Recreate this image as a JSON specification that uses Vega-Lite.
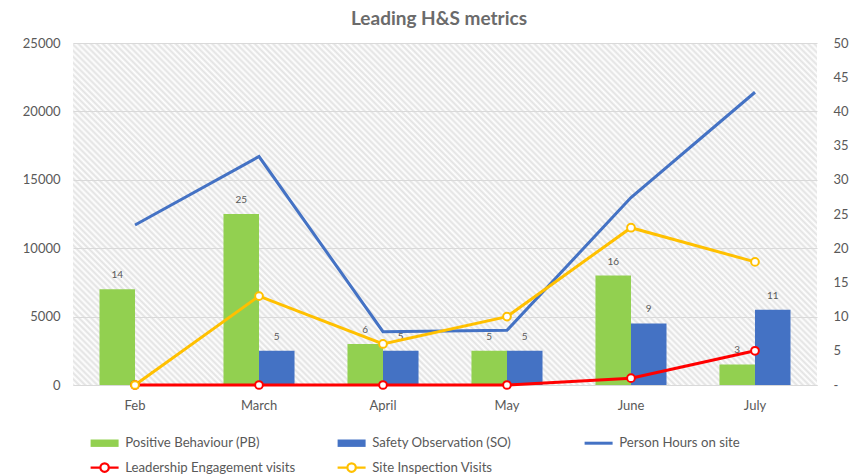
{
  "$schema": "https://vega.github.io/schema/vega-lite/v6.json",
  "width": 744,
  "height": 342,
  "autosize": {"type": "none"},
  "padding": {"left": 73, "top": 43, "right": 44, "bottom": 91},
  "background": "#ffffff",
  "title": {
    "text": "Leading H&S metrics",
    "font": "Lato",
    "fontSize": 19,
    "fontWeight": "bold",
    "color": "#6b6b6b",
    "anchor": "middle",
    "dx": -6,
    "offset": 8
  },
  "datasets": {
    "counts": [
      {"month": "Feb", "series": "Positive Behaviour (PB)", "value": 14},
      {"month": "March", "series": "Positive Behaviour (PB)", "value": 25},
      {"month": "April", "series": "Positive Behaviour (PB)", "value": 6},
      {"month": "May", "series": "Positive Behaviour (PB)", "value": 5},
      {"month": "June", "series": "Positive Behaviour (PB)", "value": 16},
      {"month": "July", "series": "Positive Behaviour (PB)", "value": 3},
      {"month": "Feb", "series": "Safety Observation (SO)", "value": 0},
      {"month": "March", "series": "Safety Observation (SO)", "value": 5},
      {"month": "April", "series": "Safety Observation (SO)", "value": 5},
      {"month": "May", "series": "Safety Observation (SO)", "value": 5},
      {"month": "June", "series": "Safety Observation (SO)", "value": 9},
      {"month": "July", "series": "Safety Observation (SO)", "value": 11},
      {"month": "Feb", "series": "Leadership Engagement visits", "value": 0},
      {"month": "March", "series": "Leadership Engagement visits", "value": 0},
      {"month": "April", "series": "Leadership Engagement visits", "value": 0},
      {"month": "May", "series": "Leadership Engagement visits", "value": 0},
      {"month": "June", "series": "Leadership Engagement visits", "value": 1},
      {"month": "July", "series": "Leadership Engagement visits", "value": 5},
      {"month": "Feb", "series": "Site Inspection Visits", "value": 0},
      {"month": "March", "series": "Site Inspection Visits", "value": 13},
      {"month": "April", "series": "Site Inspection Visits", "value": 6},
      {"month": "May", "series": "Site Inspection Visits", "value": 10},
      {"month": "June", "series": "Site Inspection Visits", "value": 23},
      {"month": "July", "series": "Site Inspection Visits", "value": 18}
    ],
    "hours": [
      {"month": "Feb", "series": "Person Hours on site", "value": 11700},
      {"month": "March", "series": "Person Hours on site", "value": 16700},
      {"month": "April", "series": "Person Hours on site", "value": 3900},
      {"month": "May", "series": "Person Hours on site", "value": 4000},
      {"month": "June", "series": "Person Hours on site", "value": 13700},
      {"month": "July", "series": "Person Hours on site", "value": 21400}
    ]
  },
  "layer": [
    {
      "data": {"name": "counts"},
      "transform": [{"filter": "datum.series == 'Positive Behaviour (PB)' || datum.series == 'Safety Observation (SO)'"}],
      "encoding": {
        "x": {
          "field": "month", "type": "nominal",
          "sort": ["Feb", "March", "April", "May", "June", "July"],
          "scale": {"type": "band", "paddingInner": 0.427, "paddingOuter": 0.2137},
          "axis": {"title": null, "labelAngle": 0, "ticks": false, "domainColor": "#d9d9d9", "labelPadding": 14, "labelFont": "Lato", "labelFontSize": 13, "labelColor": "#595959"}
        },
        "xOffset": {
          "field": "series", "type": "nominal",
          "sort": ["Positive Behaviour (PB)", "Safety Observation (SO)"],
          "scale": {"paddingInner": 0, "paddingOuter": 0}
        },
        "y": {
          "field": "value", "type": "quantitative",
          "scale": {"domain": [0, 50], "nice": false, "zero": true},
          "axis": {"orient": "right", "title": null, "values": [0, 5, 10, 15, 20, 25, 30, 35, 40, 45, 50], "grid": false, "domain": false, "ticks": false, "labelPadding": 16, "labelExpr": "datum.value == 0 ? '-' : datum.label", "labelFont": "Lato", "labelFontSize": 13, "labelColor": "#595959"}
        }
      },
      "layer": [
        {
          "mark": {"type": "bar"},
          "encoding": {
            "color": {
              "field": "series", "type": "nominal",
              "scale": {
                "domain": ["Positive Behaviour (PB)", "Safety Observation (SO)", "Person Hours on site", "Leadership Engagement visits", "Site Inspection Visits"],
                "range": ["#92d050", "#4472c4", "#4472c4", "#ff0000", "#ffc000"]
              },
              "legend": {
                "orient": "none",
                "direction": "horizontal",
                "legendX": 25,
                "legendY": 392,
                "title": null,
                "columns": 3,
                "gridAlign": "all",
                "columnPadding": 35,
                "rowPadding": 7,
                "padding": 0,
                "symbolSize": 400,
                "labelOffset": 14,
                "labelLimit": 400,
                "labelFont": "Lato",
                "labelFontSize": 13.2,
                "labelColor": "#595959",
                "encode": {
                  "symbols": {
                    "update": {
                      "shape": {"signal": "(datum.value == 'Positive Behaviour (PB)' || datum.value == 'Safety Observation (SO)') ? 'M-1.4,-0.37H1.4V0.37H-1.4Z' : datum.value == 'Person Hours on site' ? 'M-1.4,0H1.4' : 'M-1.4,0H-0.42M0.42,0H1.4M-0.42,0A0.42,0.42,0,1,1,0.42,0A0.42,0.42,0,1,1,-0.42,0Z'"},
                      "fill": {"signal": "datum.value == 'Positive Behaviour (PB)' ? '#92d050' : datum.value == 'Safety Observation (SO)' ? '#4472c4' : datum.value == 'Person Hours on site' ? 'transparent' : '#ffffff'"},
                      "stroke": {"signal": "datum.value == 'Positive Behaviour (PB)' ? '#92d050' : datum.value == 'Safety Observation (SO)' ? '#4472c4' : datum.value == 'Person Hours on site' ? '#4472c4' : datum.value == 'Leadership Engagement visits' ? '#ff0000' : '#ffc000'"},
                      "strokeWidth": {"signal": "(datum.value == 'Positive Behaviour (PB)' || datum.value == 'Safety Observation (SO)') ? 0 : datum.value == 'Person Hours on site' ? 3 : 2.2"},
                      "opacity": {"value": 1},
                      "fillOpacity": {"signal": "(datum.value == 'Positive Behaviour (PB)' || datum.value == 'Safety Observation (SO)') ? 1 : 0"},
                      "strokeOpacity": {"value": 1}
                    }
                  }
                }
              }
            }
          }
        },
        {
          "mark": {"type": "text", "baseline": "middle", "dy": -14, "font": "Lato", "fontSize": 10, "color": "#595959"},
          "encoding": {
            "text": {"condition": {"test": "datum.value === 0", "value": "-"}, "field": "value", "type": "quantitative"}
          }
        }
      ]
    },
    {
      "data": {"name": "hours"},
      "mark": {"type": "line", "strokeWidth": 3},
      "encoding": {
        "x": {"field": "month", "type": "nominal", "sort": ["Feb", "March", "April", "May", "June", "July"]},
        "y": {
          "field": "value", "type": "quantitative",
          "scale": {"domain": [0, 25000], "nice": false},
          "axis": {"orient": "left", "title": null, "values": [0, 5000, 10000, 15000, 20000, 25000], "format": "d", "grid": true, "gridColor": "#d9d9d9", "gridWidth": 1, "domain": false, "ticks": false, "labelPadding": 13, "labelFont": "Lato", "labelFontSize": 13, "labelColor": "#595959"}
        },
        "color": {"field": "series", "type": "nominal"}
      }
    },
    {
      "data": {"name": "counts"},
      "transform": [{"filter": "datum.series == 'Leadership Engagement visits' || datum.series == 'Site Inspection Visits'"}],
      "mark": {"type": "line", "strokeWidth": 3, "point": {"filled": false, "fill": "#ffffff", "size": 60, "strokeWidth": 2}},
      "encoding": {
        "x": {"field": "month", "type": "nominal", "sort": ["Feb", "March", "April", "May", "June", "July"]},
        "y": {
          "field": "value", "type": "quantitative",
          "scale": {"domain": [0, 50], "nice": false},
          "axis": null
        },
        "color": {"field": "series", "type": "nominal"}
      }
    }
  ],
  "resolve": {"scale": {"y": "independent"}},
  "config": {
    "view": {
      "stroke": null,
      "fill": {
        "gradient": "linear",
        "x1": 0, "y1": 1, "x2": 1.3496, "y2": 0.3796,
        "stops": [
          {"offset":0,"color":"#e2e2e2"},{"offset":0.0025,"color":"#fff"},{"offset":0.005,"color":"#e2e2e2"},{"offset":0.0075,"color":"#fff"},
          {"offset":0.01,"color":"#e2e2e2"},{"offset":0.0125,"color":"#fff"},{"offset":0.015,"color":"#e2e2e2"},{"offset":0.0175,"color":"#fff"},
          {"offset":0.02,"color":"#e2e2e2"},{"offset":0.0225,"color":"#fff"},{"offset":0.025,"color":"#e2e2e2"},{"offset":0.0275,"color":"#fff"},
          {"offset":0.03,"color":"#e2e2e2"},{"offset":0.0325,"color":"#fff"},{"offset":0.035,"color":"#e2e2e2"},{"offset":0.0375,"color":"#fff"},
          {"offset":0.04,"color":"#e2e2e2"},{"offset":0.0425,"color":"#fff"},{"offset":0.045,"color":"#e2e2e2"},{"offset":0.0475,"color":"#fff"},
          {"offset":0.05,"color":"#e2e2e2"},{"offset":0.0525,"color":"#fff"},{"offset":0.055,"color":"#e2e2e2"},{"offset":0.0575,"color":"#fff"},
          {"offset":0.06,"color":"#e2e2e2"},{"offset":0.0625,"color":"#fff"},{"offset":0.065,"color":"#e2e2e2"},{"offset":0.0675,"color":"#fff"},
          {"offset":0.07,"color":"#e2e2e2"},{"offset":0.0725,"color":"#fff"},{"offset":0.075,"color":"#e2e2e2"},{"offset":0.0775,"color":"#fff"},
          {"offset":0.08,"color":"#e2e2e2"},{"offset":0.0825,"color":"#fff"},{"offset":0.085,"color":"#e2e2e2"},{"offset":0.0875,"color":"#fff"},
          {"offset":0.09,"color":"#e2e2e2"},{"offset":0.0925,"color":"#fff"},{"offset":0.095,"color":"#e2e2e2"},{"offset":0.0975,"color":"#fff"},
          {"offset":0.10,"color":"#e2e2e2"},{"offset":0.1025,"color":"#fff"},{"offset":0.105,"color":"#e2e2e2"},{"offset":0.1075,"color":"#fff"},
          {"offset":0.11,"color":"#e2e2e2"},{"offset":0.1125,"color":"#fff"},{"offset":0.115,"color":"#e2e2e2"},{"offset":0.1175,"color":"#fff"},
          {"offset":0.12,"color":"#e2e2e2"},{"offset":0.1225,"color":"#fff"},{"offset":0.125,"color":"#e2e2e2"},{"offset":0.1275,"color":"#fff"},
          {"offset":0.13,"color":"#e2e2e2"},{"offset":0.1325,"color":"#fff"},{"offset":0.135,"color":"#e2e2e2"},{"offset":0.1375,"color":"#fff"},
          {"offset":0.14,"color":"#e2e2e2"},{"offset":0.1425,"color":"#fff"},{"offset":0.145,"color":"#e2e2e2"},{"offset":0.1475,"color":"#fff"},
          {"offset":0.15,"color":"#e2e2e2"},{"offset":0.1525,"color":"#fff"},{"offset":0.155,"color":"#e2e2e2"},{"offset":0.1575,"color":"#fff"},
          {"offset":0.16,"color":"#e2e2e2"},{"offset":0.1625,"color":"#fff"},{"offset":0.165,"color":"#e2e2e2"},{"offset":0.1675,"color":"#fff"},
          {"offset":0.17,"color":"#e2e2e2"},{"offset":0.1725,"color":"#fff"},{"offset":0.175,"color":"#e2e2e2"},{"offset":0.1775,"color":"#fff"},
          {"offset":0.18,"color":"#e2e2e2"},{"offset":0.1825,"color":"#fff"},{"offset":0.185,"color":"#e2e2e2"},{"offset":0.1875,"color":"#fff"},
          {"offset":0.19,"color":"#e2e2e2"},{"offset":0.1925,"color":"#fff"},{"offset":0.195,"color":"#e2e2e2"},{"offset":0.1975,"color":"#fff"},
          {"offset":0.20,"color":"#e2e2e2"},{"offset":0.2025,"color":"#fff"},{"offset":0.205,"color":"#e2e2e2"},{"offset":0.2075,"color":"#fff"},
          {"offset":0.21,"color":"#e2e2e2"},{"offset":0.2125,"color":"#fff"},{"offset":0.215,"color":"#e2e2e2"},{"offset":0.2175,"color":"#fff"},
          {"offset":0.22,"color":"#e2e2e2"},{"offset":0.2225,"color":"#fff"},{"offset":0.225,"color":"#e2e2e2"},{"offset":0.2275,"color":"#fff"},
          {"offset":0.23,"color":"#e2e2e2"},{"offset":0.2325,"color":"#fff"},{"offset":0.235,"color":"#e2e2e2"},{"offset":0.2375,"color":"#fff"},
          {"offset":0.24,"color":"#e2e2e2"},{"offset":0.2425,"color":"#fff"},{"offset":0.245,"color":"#e2e2e2"},{"offset":0.2475,"color":"#fff"},
          {"offset":0.25,"color":"#e2e2e2"},{"offset":0.2525,"color":"#fff"},{"offset":0.255,"color":"#e2e2e2"},{"offset":0.2575,"color":"#fff"},
          {"offset":0.26,"color":"#e2e2e2"},{"offset":0.2625,"color":"#fff"},{"offset":0.265,"color":"#e2e2e2"},{"offset":0.2675,"color":"#fff"},
          {"offset":0.27,"color":"#e2e2e2"},{"offset":0.2725,"color":"#fff"},{"offset":0.275,"color":"#e2e2e2"},{"offset":0.2775,"color":"#fff"},
          {"offset":0.28,"color":"#e2e2e2"},{"offset":0.2825,"color":"#fff"},{"offset":0.285,"color":"#e2e2e2"},{"offset":0.2875,"color":"#fff"},
          {"offset":0.29,"color":"#e2e2e2"},{"offset":0.2925,"color":"#fff"},{"offset":0.295,"color":"#e2e2e2"},{"offset":0.2975,"color":"#fff"},
          {"offset":0.30,"color":"#e2e2e2"},{"offset":0.3025,"color":"#fff"},{"offset":0.305,"color":"#e2e2e2"},{"offset":0.3075,"color":"#fff"},
          {"offset":0.31,"color":"#e2e2e2"},{"offset":0.3125,"color":"#fff"},{"offset":0.315,"color":"#e2e2e2"},{"offset":0.3175,"color":"#fff"},
          {"offset":0.32,"color":"#e2e2e2"},{"offset":0.3225,"color":"#fff"},{"offset":0.325,"color":"#e2e2e2"},{"offset":0.3275,"color":"#fff"},
          {"offset":0.33,"color":"#e2e2e2"},{"offset":0.3325,"color":"#fff"},{"offset":0.335,"color":"#e2e2e2"},{"offset":0.3375,"color":"#fff"},
          {"offset":0.34,"color":"#e2e2e2"},{"offset":0.3425,"color":"#fff"},{"offset":0.345,"color":"#e2e2e2"},{"offset":0.3475,"color":"#fff"},
          {"offset":0.35,"color":"#e2e2e2"},{"offset":0.3525,"color":"#fff"},{"offset":0.355,"color":"#e2e2e2"},{"offset":0.3575,"color":"#fff"},
          {"offset":0.36,"color":"#e2e2e2"},{"offset":0.3625,"color":"#fff"},{"offset":0.365,"color":"#e2e2e2"},{"offset":0.3675,"color":"#fff"},
          {"offset":0.37,"color":"#e2e2e2"},{"offset":0.3725,"color":"#fff"},{"offset":0.375,"color":"#e2e2e2"},{"offset":0.3775,"color":"#fff"},
          {"offset":0.38,"color":"#e2e2e2"},{"offset":0.3825,"color":"#fff"},{"offset":0.385,"color":"#e2e2e2"},{"offset":0.3875,"color":"#fff"},
          {"offset":0.39,"color":"#e2e2e2"},{"offset":0.3925,"color":"#fff"},{"offset":0.395,"color":"#e2e2e2"},{"offset":0.3975,"color":"#fff"},
          {"offset":0.40,"color":"#e2e2e2"},{"offset":0.4025,"color":"#fff"},{"offset":0.405,"color":"#e2e2e2"},{"offset":0.4075,"color":"#fff"},
          {"offset":0.41,"color":"#e2e2e2"},{"offset":0.4125,"color":"#fff"},{"offset":0.415,"color":"#e2e2e2"},{"offset":0.4175,"color":"#fff"},
          {"offset":0.42,"color":"#e2e2e2"},{"offset":0.4225,"color":"#fff"},{"offset":0.425,"color":"#e2e2e2"},{"offset":0.4275,"color":"#fff"},
          {"offset":0.43,"color":"#e2e2e2"},{"offset":0.4325,"color":"#fff"},{"offset":0.435,"color":"#e2e2e2"},{"offset":0.4375,"color":"#fff"},
          {"offset":0.44,"color":"#e2e2e2"},{"offset":0.4425,"color":"#fff"},{"offset":0.445,"color":"#e2e2e2"},{"offset":0.4475,"color":"#fff"},
          {"offset":0.45,"color":"#e2e2e2"},{"offset":0.4525,"color":"#fff"},{"offset":0.455,"color":"#e2e2e2"},{"offset":0.4575,"color":"#fff"},
          {"offset":0.46,"color":"#e2e2e2"},{"offset":0.4625,"color":"#fff"},{"offset":0.465,"color":"#e2e2e2"},{"offset":0.4675,"color":"#fff"},
          {"offset":0.47,"color":"#e2e2e2"},{"offset":0.4725,"color":"#fff"},{"offset":0.475,"color":"#e2e2e2"},{"offset":0.4775,"color":"#fff"},
          {"offset":0.48,"color":"#e2e2e2"},{"offset":0.4825,"color":"#fff"},{"offset":0.485,"color":"#e2e2e2"},{"offset":0.4875,"color":"#fff"},
          {"offset":0.49,"color":"#e2e2e2"},{"offset":0.4925,"color":"#fff"},{"offset":0.495,"color":"#e2e2e2"},{"offset":0.4975,"color":"#fff"},
          {"offset":0.50,"color":"#e2e2e2"},{"offset":0.5025,"color":"#fff"},{"offset":0.505,"color":"#e2e2e2"},{"offset":0.5075,"color":"#fff"},
          {"offset":0.51,"color":"#e2e2e2"},{"offset":0.5125,"color":"#fff"},{"offset":0.515,"color":"#e2e2e2"},{"offset":0.5175,"color":"#fff"},
          {"offset":0.52,"color":"#e2e2e2"},{"offset":0.5225,"color":"#fff"},{"offset":0.525,"color":"#e2e2e2"},{"offset":0.5275,"color":"#fff"},
          {"offset":0.53,"color":"#e2e2e2"},{"offset":0.5325,"color":"#fff"},{"offset":0.535,"color":"#e2e2e2"},{"offset":0.5375,"color":"#fff"},
          {"offset":0.54,"color":"#e2e2e2"},{"offset":0.5425,"color":"#fff"},{"offset":0.545,"color":"#e2e2e2"},{"offset":0.5475,"color":"#fff"},
          {"offset":0.55,"color":"#e2e2e2"},{"offset":0.5525,"color":"#fff"},{"offset":0.555,"color":"#e2e2e2"},{"offset":0.5575,"color":"#fff"},
          {"offset":0.56,"color":"#e2e2e2"},{"offset":0.5625,"color":"#fff"},{"offset":0.565,"color":"#e2e2e2"},{"offset":0.5675,"color":"#fff"},
          {"offset":0.57,"color":"#e2e2e2"},{"offset":0.5725,"color":"#fff"},{"offset":0.575,"color":"#e2e2e2"},{"offset":0.5775,"color":"#fff"},
          {"offset":0.58,"color":"#e2e2e2"},{"offset":0.5825,"color":"#fff"},{"offset":0.585,"color":"#e2e2e2"},{"offset":0.5875,"color":"#fff"},
          {"offset":0.59,"color":"#e2e2e2"},{"offset":0.5925,"color":"#fff"},{"offset":0.595,"color":"#e2e2e2"},{"offset":0.5975,"color":"#fff"},
          {"offset":0.60,"color":"#e2e2e2"},{"offset":0.6025,"color":"#fff"},{"offset":0.605,"color":"#e2e2e2"},{"offset":0.6075,"color":"#fff"},
          {"offset":0.61,"color":"#e2e2e2"},{"offset":0.6125,"color":"#fff"},{"offset":0.615,"color":"#e2e2e2"},{"offset":0.6175,"color":"#fff"},
          {"offset":0.62,"color":"#e2e2e2"},{"offset":0.6225,"color":"#fff"},{"offset":0.625,"color":"#e2e2e2"},{"offset":0.6275,"color":"#fff"},
          {"offset":0.63,"color":"#e2e2e2"},{"offset":0.6325,"color":"#fff"},{"offset":0.635,"color":"#e2e2e2"},{"offset":0.6375,"color":"#fff"},
          {"offset":0.64,"color":"#e2e2e2"},{"offset":0.6425,"color":"#fff"},{"offset":0.645,"color":"#e2e2e2"},{"offset":0.6475,"color":"#fff"},
          {"offset":0.65,"color":"#e2e2e2"},{"offset":0.6525,"color":"#fff"},{"offset":0.655,"color":"#e2e2e2"},{"offset":0.6575,"color":"#fff"},
          {"offset":0.66,"color":"#e2e2e2"},{"offset":0.6625,"color":"#fff"},{"offset":0.665,"color":"#e2e2e2"},{"offset":0.6675,"color":"#fff"},
          {"offset":0.67,"color":"#e2e2e2"},{"offset":0.6725,"color":"#fff"},{"offset":0.675,"color":"#e2e2e2"},{"offset":0.6775,"color":"#fff"},
          {"offset":0.68,"color":"#e2e2e2"},{"offset":0.6825,"color":"#fff"},{"offset":0.685,"color":"#e2e2e2"},{"offset":0.6875,"color":"#fff"},
          {"offset":0.69,"color":"#e2e2e2"},{"offset":0.6925,"color":"#fff"},{"offset":0.695,"color":"#e2e2e2"},{"offset":0.6975,"color":"#fff"},
          {"offset":0.70,"color":"#e2e2e2"},{"offset":0.7025,"color":"#fff"},{"offset":0.705,"color":"#e2e2e2"},{"offset":0.7075,"color":"#fff"},
          {"offset":0.71,"color":"#e2e2e2"},{"offset":0.7125,"color":"#fff"},{"offset":0.715,"color":"#e2e2e2"},{"offset":0.7175,"color":"#fff"},
          {"offset":0.72,"color":"#e2e2e2"},{"offset":0.7225,"color":"#fff"},{"offset":0.725,"color":"#e2e2e2"},{"offset":0.7275,"color":"#fff"},
          {"offset":0.73,"color":"#e2e2e2"},{"offset":0.7325,"color":"#fff"},{"offset":0.735,"color":"#e2e2e2"},{"offset":0.7375,"color":"#fff"},
          {"offset":0.74,"color":"#e2e2e2"},{"offset":0.7425,"color":"#fff"},{"offset":0.745,"color":"#e2e2e2"},{"offset":0.7475,"color":"#fff"},
          {"offset":0.75,"color":"#e2e2e2"},{"offset":0.7525,"color":"#fff"},{"offset":0.755,"color":"#e2e2e2"},{"offset":0.7575,"color":"#fff"},
          {"offset":0.76,"color":"#e2e2e2"},{"offset":0.7625,"color":"#fff"},{"offset":0.765,"color":"#e2e2e2"},{"offset":0.7675,"color":"#fff"},
          {"offset":0.77,"color":"#e2e2e2"},{"offset":0.7725,"color":"#fff"},{"offset":0.775,"color":"#e2e2e2"},{"offset":0.7775,"color":"#fff"},
          {"offset":0.78,"color":"#e2e2e2"},{"offset":0.7825,"color":"#fff"},{"offset":0.785,"color":"#e2e2e2"},{"offset":0.7875,"color":"#fff"},
          {"offset":0.79,"color":"#e2e2e2"},{"offset":0.7925,"color":"#fff"},{"offset":0.795,"color":"#e2e2e2"},{"offset":0.7975,"color":"#fff"},
          {"offset":0.80,"color":"#e2e2e2"},{"offset":0.8025,"color":"#fff"},{"offset":0.805,"color":"#e2e2e2"},{"offset":0.8075,"color":"#fff"},
          {"offset":0.81,"color":"#e2e2e2"},{"offset":0.8125,"color":"#fff"},{"offset":0.815,"color":"#e2e2e2"},{"offset":0.8175,"color":"#fff"},
          {"offset":0.82,"color":"#e2e2e2"},{"offset":0.8225,"color":"#fff"},{"offset":0.825,"color":"#e2e2e2"},{"offset":0.8275,"color":"#fff"},
          {"offset":0.83,"color":"#e2e2e2"},{"offset":0.8325,"color":"#fff"},{"offset":0.835,"color":"#e2e2e2"},{"offset":0.8375,"color":"#fff"},
          {"offset":0.84,"color":"#e2e2e2"},{"offset":0.8425,"color":"#fff"},{"offset":0.845,"color":"#e2e2e2"},{"offset":0.8475,"color":"#fff"},
          {"offset":0.85,"color":"#e2e2e2"},{"offset":0.8525,"color":"#fff"},{"offset":0.855,"color":"#e2e2e2"},{"offset":0.8575,"color":"#fff"},
          {"offset":0.86,"color":"#e2e2e2"},{"offset":0.8625,"color":"#fff"},{"offset":0.865,"color":"#e2e2e2"},{"offset":0.8675,"color":"#fff"},
          {"offset":0.87,"color":"#e2e2e2"},{"offset":0.8725,"color":"#fff"},{"offset":0.875,"color":"#e2e2e2"},{"offset":0.8775,"color":"#fff"},
          {"offset":0.88,"color":"#e2e2e2"},{"offset":0.8825,"color":"#fff"},{"offset":0.885,"color":"#e2e2e2"},{"offset":0.8875,"color":"#fff"},
          {"offset":0.89,"color":"#e2e2e2"},{"offset":0.8925,"color":"#fff"},{"offset":0.895,"color":"#e2e2e2"},{"offset":0.8975,"color":"#fff"},
          {"offset":0.90,"color":"#e2e2e2"}
        ]
      }
    },
    "font": "Lato"
  }
}
